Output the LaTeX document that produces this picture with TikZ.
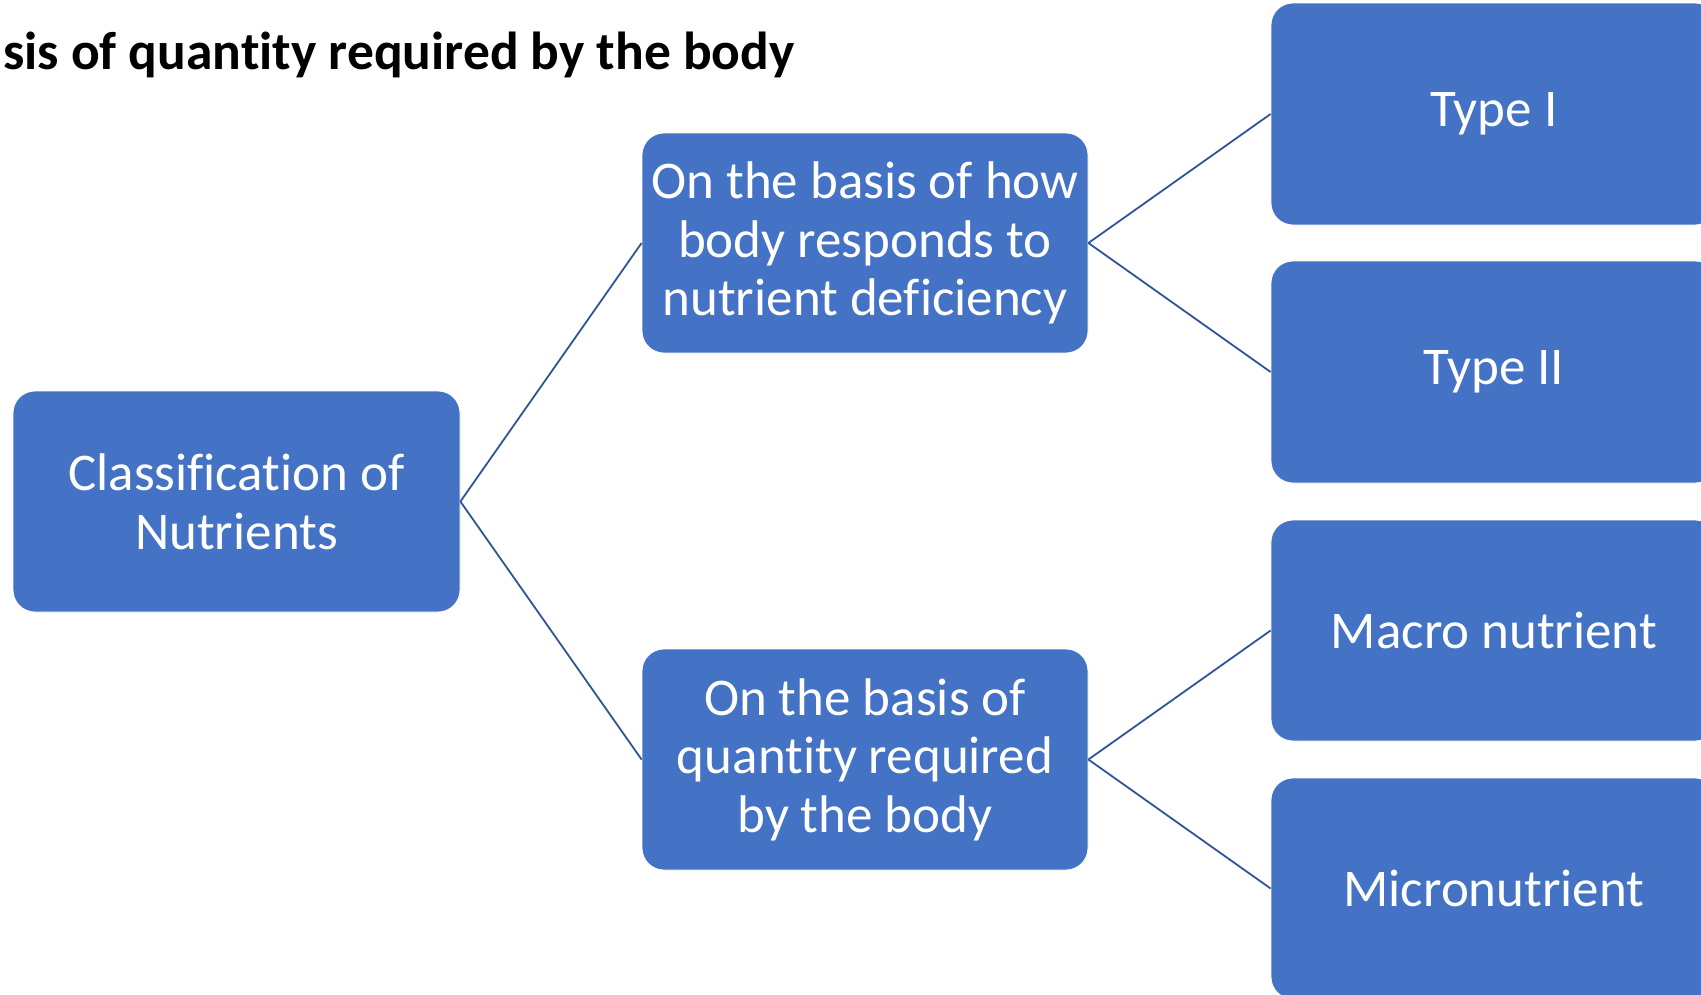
\documentclass[tikz,border=0pt]{standalone}
\usepackage{fontspec}
\setmainfont{Carlito}[Ligatures={NoCommon}]
\definecolor{boxblue}{RGB}{68,114,196}
\definecolor{lineblue}{RGB}{47,85,151}
\tikzset{
  nbox/.style={rectangle, rounded corners=22pt, fill=boxblue, draw=white, line width=0.8pt,
    text=white, align=center, inner sep=0pt,
    font=\fontsize{53}{58.6}\selectfont},
  conn/.style={draw=lineblue, line width=1.8pt}
}
\begin{document}
\begin{tikzpicture}[x=1pt,y=-1pt]
\useasboundingbox (0,0) rectangle (1701,994);
\clip (0,0) rectangle (1701,994);
\node[anchor=base west, font=\fontsize{53.5}{58}\selectfont\bfseries, inner sep=0pt] (title) at (3,69) {sis of quantity required by the body};
\node[nbox, minimum width=447pt, minimum height=221pt] (cls) at (236.5,501.5) {Classification of\\Nutrients};
\node[nbox, minimum width=446pt, minimum height=220pt] (m1) at (865,243) {On the basis of how\\body responds to\\nutrient deficiency};
\node[nbox, minimum width=446pt, minimum height=221pt] (m2) at (865,759.5) {On the basis of\\quantity required\\by the body};
\node[nbox, minimum width=446pt, minimum height=222pt] (t1) at (1494,114) {Type I};
\node[nbox, minimum width=446pt, minimum height=222pt] (t2) at (1494,372) {Type II};
\node[nbox, minimum width=446pt, minimum height=221pt] (mac) at (1494,630.5) {Macro nutrient};
\node[nbox, minimum width=446pt, minimum height=221pt] (mic) at (1494,888.5) {Micronutrient};
\draw[conn] (cls.east) -- (m1.west);
\draw[conn] (cls.east) -- (m2.west);
\draw[conn] (m1.east) -- (t1.west);
\draw[conn] (m1.east) -- (t2.west);
\draw[conn] (m2.east) -- (mac.west);
\draw[conn] (m2.east) -- (mic.west);
\end{tikzpicture}
\end{document}
